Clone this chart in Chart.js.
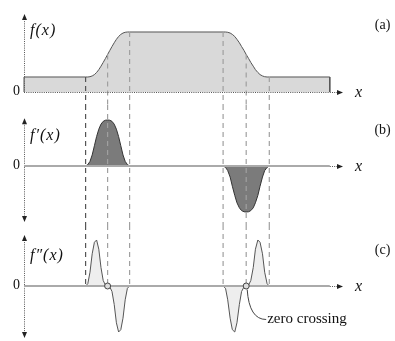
<!DOCTYPE html>
<html>
<head>
<meta charset="utf-8">
<script src="https://cdn.jsdelivr.net/npm/chart.js@4"></script>
<style>
  html, body { margin: 0; padding: 0; background: #fff; }
  #wrap { position: relative; width: 395px; height: 341px; }
  canvas { position: absolute; left: 0; }
</style>
</head>
<body>
<div id="wrap">
  <canvas id="panel-a" width="395" height="105" style="top:0"></canvas>
  <canvas id="panel-b" width="395" height="120" style="top:105px"></canvas>
  <canvas id="panel-c" width="395" height="116" style="top:225px"></canvas>
</div>
<script>
// sample positions across the rising and the falling edge
const riseX = [2.8, 2.9, 3.0, 3.1, 3.2, 3.3, 3.4, 3.5, 3.6, 3.7, 3.8, 3.9, 4.0, 4.1, 4.2, 4.3, 4.4, 4.5, 4.6, 4.7, 4.8];
const fallX = [9.05, 9.16, 9.26, 9.37, 9.47, 9.58, 9.68, 9.79, 9.89, 10.0, 10.1, 10.21, 10.31, 10.42, 10.52, 10.63, 10.73, 10.84, 10.94, 11.05, 11.15];

// f(x)
const riseF = [1, 1, 1.02, 1.07, 1.16, 1.3, 1.49, 1.72, 1.97, 2.23, 2.5, 2.77, 3.03, 3.28, 3.51, 3.7, 3.84, 3.93, 3.98, 4, 4];
const fallF = [4, 4, 3.98, 3.93, 3.84, 3.7, 3.51, 3.28, 3.03, 2.77, 2.5, 2.23, 1.97, 1.72, 1.49, 1.3, 1.16, 1.07, 1.02, 1, 1];
// f'(x)
const riseD1 = [0, 0.03, 0.1, 0.24, 0.44, 0.64, 0.8, 0.91, 0.97, 0.995, 1, 0.995, 0.97, 0.91, 0.8, 0.64, 0.44, 0.24, 0.1, 0.03, 0];
const fallD1 = [0, -0.03, -0.1, -0.24, -0.44, -0.64, -0.8, -0.91, -0.97, -0.995, -1, -0.995, -0.97, -0.91, -0.8, -0.64, -0.44, -0.24, -0.1, -0.03, 0];
// f''(x)
const riseD2 = [0, 0.05, 0.3, 0.7, 0.95, 1, 0.8, 0.4, 0.12, 0.02, 0, -0.02, -0.12, -0.4, -0.8, -1, -0.95, -0.7, -0.3, -0.05, 0];
const fallD2 = [0, -0.05, -0.3, -0.7, -0.95, -1, -0.8, -0.4, -0.12, -0.02, 0, 0.02, 0.12, 0.4, 0.8, 1, 0.95, 0.7, 0.3, 0.05, 0];

const lowLevel = 1;
const startX = 0;
const endX = 13.9;
const edgeX = [2.8, 3.8, 4.8, 9.05, 10.1, 11.15];
const edgeF = [1, 2.5, 4, 4, 2.5, 1];
const zeroCrossX = [3.8, 10.1];

const X_MIN = -1.091, X_MAX = 16.864;
const ARROW_X = 14.5;
const serif = '"Liberation Serif", "DejaVu Serif", serif';

function pts(xs, ys) {
    return xs.map((x, i) => ({ x: x, y: ys[i] }));
}

function arrow(ctx, x, y, dir) {
    ctx.beginPath();
    if (dir === 'up') { ctx.moveTo(x, y); ctx.lineTo(x - 2.5, y + 6); ctx.lineTo(x + 2.5, y + 6); }
    if (dir === 'down') { ctx.moveTo(x, y); ctx.lineTo(x - 2.5, y - 6); ctx.lineTo(x + 2.5, y - 6); }
    if (dir === 'right') { ctx.moveTo(x, y); ctx.lineTo(x - 6, y - 2.5); ctx.lineTo(x - 6, y + 2.5); }
    ctx.closePath();
    ctx.fill();
}

function seg(ctx, x1, y1, x2, y2) {
    ctx.beginPath();
    ctx.moveTo(x1, y1);
    ctx.lineTo(x2, y2);
    ctx.stroke();
}

const decor = {
    id: 'decor',
    afterDatasetsDraw(chart, args, o) {
        const ctx = chart.ctx;
        const xs = chart.scales.x, ys = chart.scales.y;
        const px = v => xs.getPixelForValue(v);
        const py = v => ys.getPixelForValue(v);
        const top = chart.chartArea.top;
        ctx.save();
        ctx.fillStyle = '#222';

        // y axis, dotted
        const ax = Math.round(px(0)) + 0.5;
        const y0 = Math.round(py(0)) + 0.5;
        ctx.strokeStyle = '#555';
        ctx.lineWidth = 1;
        ctx.setLineDash([1, 1.2]);
        seg(ctx, ax, py(o.axisTop) + 5, ax, o.arrowDown ? py(o.axisBottom) - 5 : y0);
        arrow(ctx, ax, py(o.axisTop), 'up');
        if (o.arrowDown) arrow(ctx, ax, py(o.axisBottom), 'down');

        // x axis
        if (o.solidBase) {
            ctx.setLineDash([]);
            ctx.strokeStyle = '#aaa';
            ctx.lineWidth = 2;
            seg(ctx, px(startX), py(0), px(endX), py(0));
            ctx.strokeStyle = '#555';
            ctx.lineWidth = 1;
            ctx.setLineDash([1, 1.2]);
            seg(ctx, px(endX), y0, px(ARROW_X) - 5, y0);
        } else {
            seg(ctx, px(startX), y0, px(ARROW_X) - 5, y0);
        }
        ctx.setLineDash([]);
        arrow(ctx, px(ARROW_X), y0, 'right');

        // texts
        ctx.fillStyle = '#111';
        ctx.textBaseline = 'middle';
        ctx.font = 'italic 16px ' + serif;
        ctx.letterSpacing = '1px';
        ctx.textAlign = 'left';
        ctx.fillText(o.label, px(0) + 6, top + 31);
        ctx.fillText('x', px(15.05), y0);
        ctx.letterSpacing = '0px';
        ctx.font = '14px ' + serif;
        ctx.textAlign = 'right';
        ctx.fillText('0', px(0) - 4, y0 - 1);
        ctx.textAlign = 'center';
        ctx.fillText(o.tag, px(16.3), top + 25);

        if (o.crossings) {
            ctx.strokeStyle = '#444';
            ctx.lineWidth = 1;
            const cx = px(zeroCrossX[1]);
            ctx.beginPath();
            ctx.moveTo(cx + 1, y0 + 3);
            ctx.quadraticCurveTo(cx + 3, y0 + 33, cx + 20, y0 + 33);
            ctx.stroke();
            zeroCrossX.forEach(zx => {
                ctx.beginPath();
                ctx.arc(px(zx), py(0), 3, 0, Math.PI * 2);
                ctx.fillStyle = '#ddd';
                ctx.fill();
                ctx.stroke();
            });
            ctx.fillStyle = '#111';
            ctx.textAlign = 'left';
            ctx.font = '15px ' + serif;
            ctx.fillText('zero crossing', cx + 21, y0 + 33);
        }
        ctx.restore();
    }
};

function dashedEdges(tops, bottom) {
    return edgeX.map((x, i) => ({
        data: [{ x: x, y: tops[i] }, { x: x, y: bottom }],
        borderColor: i === 0 ? '#555' : '#a0a0a0',
        borderWidth: 1.2,
        borderDash: [5, 4],
        fill: false,
        order: 1
    }));
}

function makeChart(id, yMin, yMax, datasets, decorOpts) {
    return new Chart(document.getElementById(id), {
        type: 'line',
        data: { datasets: datasets },
        options: {
            responsive: false,
            animation: false,
            devicePixelRatio: 1,
            layout: { padding: 0 },
            elements: { point: { radius: 0 }, line: { tension: 0 } },
            scales: {
                x: { type: 'linear', min: X_MIN, max: X_MAX, display: false },
                y: { type: 'linear', min: yMin, max: yMax, display: false }
            },
            plugins: {
                legend: { display: false },
                tooltip: { enabled: false },
                decor: decorOpts
            }
        },
        plugins: [decor]
    });
}

// (a) f(x)
const aMin = -0.867, aMax = 6.133;
const fCurve = [{ x: startX, y: 0 }, { x: startX, y: lowLevel }]
    .concat(pts(riseX, riseF), pts(fallX, fallF), [{ x: endX, y: lowLevel }, { x: endX, y: 0 }]);
makeChart('panel-a', aMin, aMax, [
    { data: fCurve, borderColor: '#555', borderWidth: 1, backgroundColor: '#d9d9d9', fill: 'origin', order: 2 }
].concat(dashedEdges(edgeF, aMin)), { label: 'f(x)', tag: '(a)', axisTop: 5.2, arrowDown: false, solidBase: false });

// (b) f'(x)
const bMin = -1.283, bMax = 1.326;
makeChart('panel-b', bMin, bMax, [
    { data: pts(riseX, riseD1), borderColor: '#333', borderWidth: 1, backgroundColor: '#7b7b7b', fill: 'origin', order: 2 },
    { data: pts(fallX, fallD1), borderColor: '#333', borderWidth: 1, backgroundColor: '#7b7b7b', fill: 'origin', order: 2 }
].concat(dashedEdges(edgeX.map(() => bMax), bMin)), { label: 'f\u2032(x)', tag: '(b)', axisTop: 1.04, axisBottom: -1.22, arrowDown: true, solidBase: true });

// (c) f''(x)
const cMin = -1.196, cMax = 1.326;
makeChart('panel-c', cMin, cMax, [
    { data: pts(riseX, riseD2), borderColor: '#555', borderWidth: 1, backgroundColor: '#eeeeee', fill: 'origin', order: 2 },
    { data: pts(fallX, fallD2), borderColor: '#555', borderWidth: 1, backgroundColor: '#eeeeee', fill: 'origin', order: 2 }
].concat(dashedEdges(edgeX.map(() => cMax), 0)), { label: 'f\u2033(x)', tag: '(c)', axisTop: 1.11, axisBottom: -1.13, arrowDown: true, solidBase: true, crossings: true });
</script>
</body>
</html>
